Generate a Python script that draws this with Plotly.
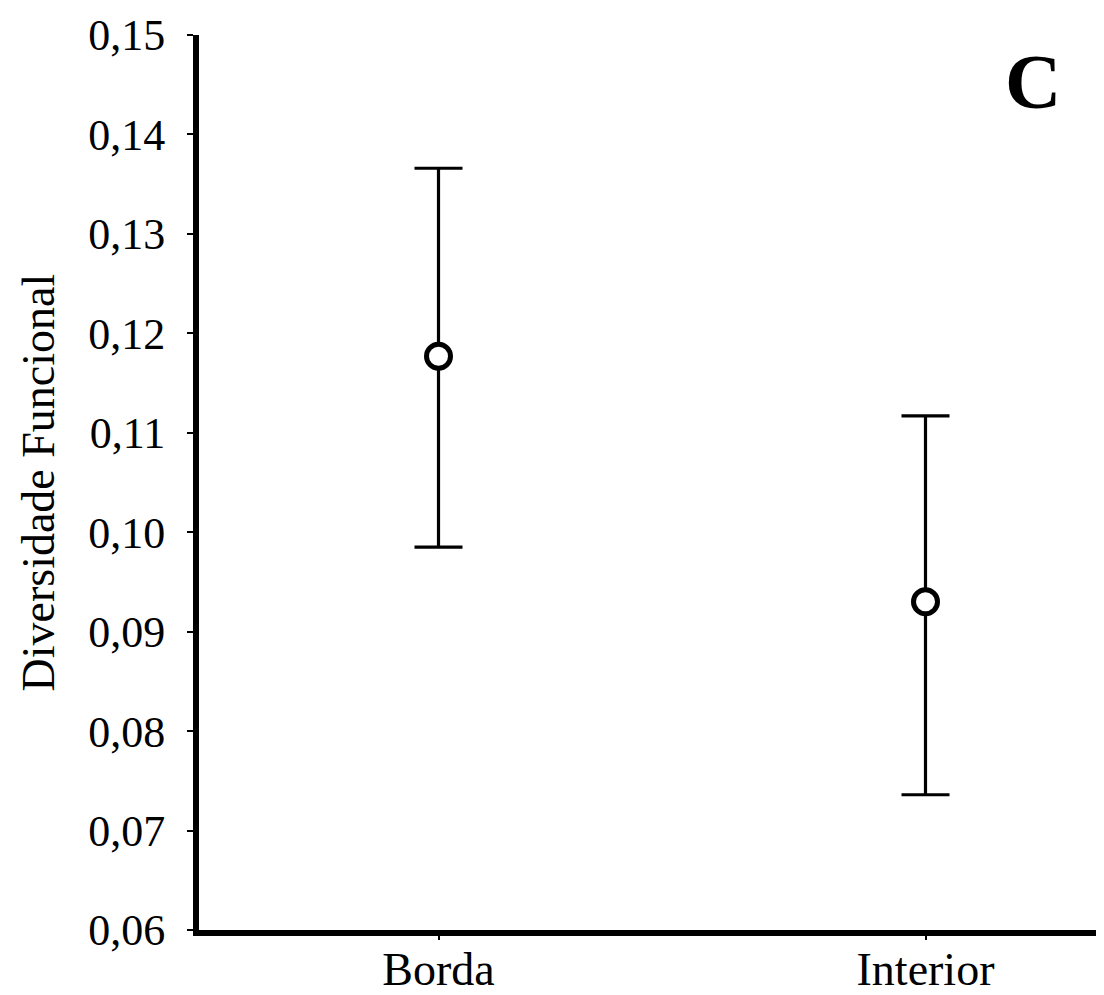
import plotly.graph_objects as go

categories = ["Borda", "Interior"]
means = [0.1177, 0.0930]
upper = [0.1366, 0.1117]
lower = [0.0985, 0.0736]
y_ticks = [0.06, 0.07, 0.08, 0.09, 0.10, 0.11, 0.12, 0.13, 0.14, 0.15]
y_title = "Diversidade Funcional"
panel_label = "C"

x_pos = list(range(len(categories)))
err_plus = [u - m for u, m in zip(upper, means)]
err_minus = [m - l for m, l in zip(means, lower)]

FONT = "Liberation Serif, Times New Roman, serif"

# page body has an 8px margin, so the figure is sized to fill the rest
W, H = 1096, 987
L, T, B = 191, 27, 57
PX_PER_UNIT = 487.0
x_left = -0.5 + (L - 187) / PX_PER_UNIT
x_right = x_left + (W - L) / PX_PER_UNIT

fig = go.Figure()
fig.add_trace(go.Scatter(
    x=x_pos, y=means, mode="markers",
    marker=dict(symbol="circle", size=24, color="white",
                line=dict(color="black", width=5)),
    error_y=dict(type="data", symmetric=False, array=err_plus,
                 arrayminus=err_minus, color="black", thickness=3.2, width=24),
    showlegend=False,
))

fig.update_layout(
    width=W, height=H,
    margin=dict(l=L, r=0, t=T, b=B, pad=0),
    paper_bgcolor="white", plot_bgcolor="white",
    separators=", ",
    font=dict(family=FONT, size=46, color="black"),
    xaxis=dict(
        range=[x_left, x_right],
        tickmode="array", tickvals=x_pos, ticktext=categories,
        showline=True, linecolor="black", linewidth=6,
        ticks="outside", ticklen=4, tickwidth=2, tickcolor="black",
        ticklabelstandoff=-10,
        showgrid=False, zeroline=False,
        tickfont=dict(family=FONT, size=46),
    ),
    yaxis=dict(
        range=[0.06, 0.15],
        tickmode="array", tickvals=y_ticks,
        tickformat=".2f",
        showline=True, linecolor="black", linewidth=6,
        ticks="outside", ticklen=6, tickwidth=2, tickcolor="black",
        ticklabelstandoff=13,
        showgrid=False, zeroline=False,
        tickfont=dict(family=FONT, size=44),
    ),
    annotations=[
        dict(
            text=y_title, xref="paper", yref="paper",
            x=(30 - L) / (W - L), y=0.5, xanchor="center", yanchor="middle",
            textangle=-90, showarrow=False,
            font=dict(family=FONT, size=46, color="black"),
        ),
        dict(
            text="<b>" + panel_label + "</b>", xref="paper", yref="paper",
            x=0.921, y=0.948, xanchor="center", yanchor="middle",
            showarrow=False, font=dict(family=FONT, size=78, color="black"),
        ),
    ],
)

fig.write_html("out.html")
